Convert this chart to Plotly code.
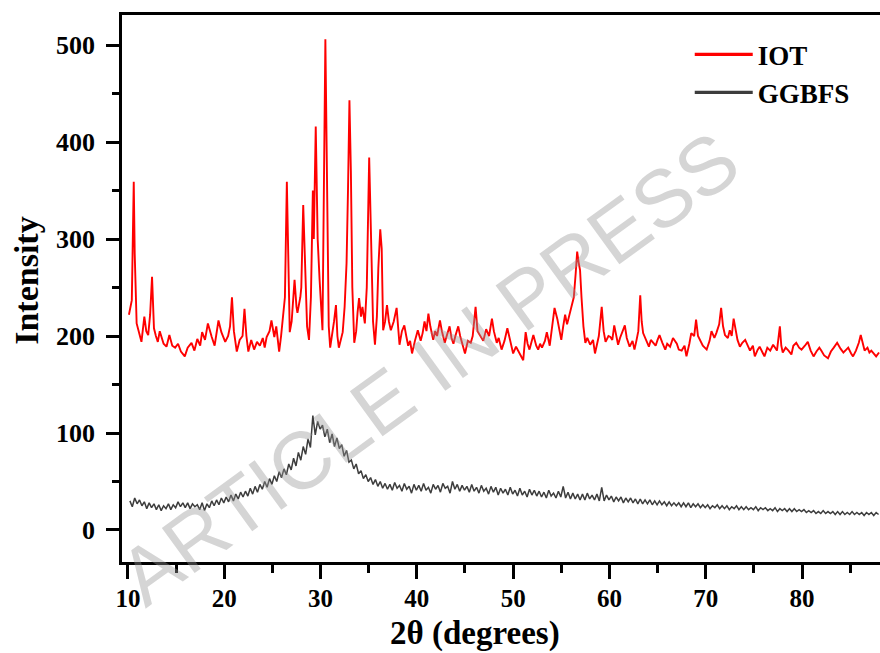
import plotly.graph_objects as go

# ---------------- data ----------------
iot_2theta = [
    10.1, 10.4, 10.6, 10.7, 10.9, 11.1, 11.4, 11.7, 11.9, 12.1, 12.3, 12.5, 12.7, 12.9,
    13.1, 13.3, 13.5, 13.7, 14.0, 14.3, 14.6, 14.9, 15.2, 15.5, 15.9, 16.2, 16.6, 16.9,
    17.2, 17.5, 17.7, 18.0, 18.3, 18.5, 18.7, 19.0, 19.2, 19.4, 19.7, 20.1, 20.4, 20.6,
    20.8, 21.0, 21.3, 21.6, 21.9, 22.1, 22.3, 22.5, 22.8, 23.1, 23.4, 23.7, 24.0, 24.2,
    24.4, 24.7, 24.9, 25.2, 25.4, 25.7, 25.9, 26.1, 26.3, 26.5, 26.6, 26.8, 27.0, 27.3,
    27.5, 27.6, 27.9, 28.0, 28.2, 28.4, 28.6, 28.8, 29.0, 29.2, 29.3, 29.5, 29.7, 29.9,
    30.05, 30.2, 30.5, 30.7, 30.85, 31.0, 31.2, 31.4, 31.6, 31.75, 31.9, 32.1, 32.3, 32.5,
    32.7, 32.85, 33.0, 33.15, 33.3, 33.5, 33.7, 33.85, 34.0, 34.2, 34.35, 34.6, 34.8, 35.05,
    35.25, 35.45, 35.65, 35.85, 36.0, 36.2, 36.35, 36.5, 36.7, 36.9, 37.1, 37.3, 37.6, 37.9,
    38.05, 38.2, 38.45, 38.7, 38.9, 39.1, 39.3, 39.5, 39.8, 40.1, 40.4, 40.6, 40.8, 41.0,
    41.2, 41.4, 41.7, 41.9, 42.1, 42.4, 42.6, 42.9, 43.1, 43.4, 43.6, 43.8, 44.0, 44.3,
    44.5, 44.8, 45.0, 45.3, 45.6, 45.8, 46.1, 46.3, 46.6, 46.9, 47.2, 47.5, 47.8, 48.0,
    48.3, 48.5, 48.8, 49.1, 49.4, 49.7, 50.0, 50.3, 50.6, 50.8, 51.05, 51.3, 51.5, 51.7,
    51.9, 52.1, 52.4, 52.6, 52.8, 53.0, 53.3, 53.5, 53.8, 54.0, 54.3, 54.6, 54.8, 55.0,
    55.2, 55.4, 55.6, 55.9, 56.1, 56.3, 56.5, 56.65, 56.8, 56.95, 57.1, 57.3, 57.5, 57.7,
    58.0, 58.3, 58.5, 58.7, 58.9, 59.2, 59.4, 59.6, 59.9, 60.1, 60.3, 60.5, 60.7, 60.9,
    61.1, 61.3, 61.6, 61.8, 62.1, 62.4, 62.6, 62.8, 63.0, 63.2, 63.35, 63.5, 63.8, 64.1,
    64.3, 64.5, 64.8, 65.0, 65.2, 65.5, 65.8, 66.0, 66.3, 66.6, 67.0, 67.2, 67.5, 67.8,
    68.0, 68.3, 68.5, 68.8, 69.0, 69.2, 69.4, 69.7, 70.1, 70.4, 70.6, 70.9, 71.1, 71.4,
    71.6, 71.8, 72.0, 72.3, 72.5, 72.7, 72.9, 73.1, 73.3, 73.55, 73.8, 74.1, 74.4, 74.6,
    74.9, 75.1, 75.4, 75.6, 75.9, 76.1, 76.4, 76.7, 77.0, 77.2, 77.4, 77.7, 77.85, 78.0,
    78.3, 78.6, 78.9, 79.1, 79.4, 79.7, 79.95, 80.3, 80.6, 80.9, 81.2, 81.5, 81.8, 82.0,
    82.3, 82.7, 83.0, 83.3, 83.65, 84.0, 84.3, 84.6, 84.8, 85.1, 85.3, 85.6, 85.9, 86.1,
    86.3, 86.5, 86.8, 87.0, 87.2, 87.5, 87.7, 88.0,
]
iot_intensity = [
    222, 237, 359, 285, 213, 205, 194, 220, 205, 201, 222, 261, 208, 200,
    194, 205, 199, 192, 189, 201, 190, 188, 192, 184, 179, 188, 193, 185,
    197, 190, 204, 196, 213, 205, 199, 190, 206, 216, 204, 194, 200, 210,
    240, 205, 184, 196, 200, 228, 200, 184, 196, 186, 194, 190, 198, 188,
    199, 205, 216, 199, 210, 184, 200, 218, 240, 359, 300, 204, 215, 258,
    230, 224, 240, 250, 335, 260, 210, 196, 240, 350, 300, 416, 300, 258,
    230, 206, 506, 300, 210, 188, 200, 215, 232, 200, 188, 195, 204, 230,
    275, 350, 443, 370, 250, 193, 205, 225, 239, 220, 230, 213, 250, 384,
    300, 215, 191, 220, 270, 310, 290, 206, 215, 232, 215, 206, 215, 229,
    210, 191, 205, 211, 200, 190, 195, 182, 195, 206, 195, 203, 215, 205,
    223, 210, 196, 205, 200, 216, 205, 193, 200, 210, 198, 192, 200, 210,
    200, 190, 182, 195, 193, 200, 230, 205, 200, 195, 207, 200, 218, 205,
    193, 198, 186, 195, 208, 195, 182, 189, 184, 180, 175, 204, 192, 186,
    195, 201, 190, 186, 192, 188, 195, 204, 190, 205, 229, 217, 205, 196,
    210, 222, 212, 223, 230, 240, 265, 287, 276, 268, 240, 210, 193, 198,
    191, 196, 182, 190, 200, 230, 205, 194, 200, 199, 196, 211, 200, 191,
    198, 203, 211, 198, 189, 195, 186, 195, 205, 242, 215, 203, 195, 189,
    196, 194, 190, 196, 201, 193, 186, 192, 189, 198, 192, 186, 185, 190,
    179, 192, 203, 200, 217, 200, 196, 190, 186, 195, 205, 198, 203, 212,
    229, 210, 201, 198, 206, 200, 218, 205, 196, 189, 193, 196, 189, 185,
    190, 179, 186, 189, 183, 179, 188, 185, 191, 188, 185, 210, 190, 183,
    188, 185, 181, 190, 193, 188, 186, 190, 194, 185, 179, 184, 188, 185,
    180, 177, 184, 188, 193, 187, 183, 186, 188, 182, 179, 185, 193, 201,
    192, 185, 188, 183, 185, 181, 179, 183,
]

# GGBFS scan: 0.25 deg steps starting at 10.2 deg (one row per degree)
ggbfs_start = 10.2
ggbfs_step = 0.25
ggbfs_intensity = [
    30, 24, 33, 27,   31, 25, 29, 22,   28, 23, 27, 21,   26, 20, 25, 22,
    27, 21, 26, 23,   29, 24, 28, 23,   28, 22, 27, 24,   26, 21, 28, 20,
    27, 23, 30, 25,   31, 26, 33, 28,   34, 29, 36, 30,   37, 32, 39, 34,
    40, 35, 43, 37,   45, 39, 47, 42,   50, 44, 53, 47,   56, 50, 60, 54,
    63, 57, 68, 62,   74, 66, 80, 72,   86, 78, 94, 85,   118, 98, 112, 104,
    108, 96, 104, 90, 99, 86, 95, 84,   88, 76, 82, 70,   72, 63, 68, 58,
    61, 53, 57, 50,   54, 47, 52, 45,   50, 43, 48, 42,   47, 41, 49, 43,
    46, 40, 48, 42,   45, 38, 47, 41,   46, 40, 48, 41,   44, 38, 47, 42,
    46, 39, 48, 43,   45, 38, 50, 42,   47, 40, 46, 41,   45, 39, 47, 40,
    44, 38, 46, 40,   43, 37, 45, 39,   44, 36, 43, 38,   42, 36, 44, 37,
    41, 35, 43, 36,   40, 34, 42, 36,   41, 35, 40, 34,   39, 33, 41, 35,
    38, 33, 40, 34,   45, 33, 39, 32,   38, 32, 37, 31,   37, 31, 38, 32,
    36, 31, 37, 30,   44, 30, 36, 31,   35, 29, 34, 30,   34, 28, 33, 29,
    33, 28, 32, 27,   32, 27, 31, 27,   31, 26, 30, 26,   30, 26, 29, 25,
    29, 25, 28, 25,   28, 24, 28, 24,   28, 23, 27, 24,   27, 23, 26, 23,
    26, 22, 25, 23,   26, 22, 25, 22,   25, 21, 24, 22,   25, 21, 24, 21,
    24, 21, 23, 21,   24, 20, 23, 21,   23, 20, 22, 20,   23, 19, 22, 20,
    22, 19, 22, 19,   22, 19, 21, 19,   21, 18, 20, 18,   20, 17, 19, 17,
    20, 17, 19, 17,   19, 16, 19, 16,   19, 16, 18, 16,   19, 16, 18, 16,
    18, 15, 18, 16,   18, 15, 18, 16,
]
ggbfs_2theta = [round(ggbfs_start + ggbfs_step * i, 2) for i in range(len(ggbfs_intensity))]

series_names = ["IOT", "GGBFS"]
series_colors = ["#ff0000", "#3d3d3d"]
x_tick_vals = [10, 20, 30, 40, 50, 60, 70, 80]
y_tick_vals = [0, 100, 200, 300, 400, 500]

# ---------------- figure ----------------
FONT = "Liberation Serif, Times New Roman, serif"

fig = go.Figure()
fig.add_trace(go.Scatter(x=iot_2theta, y=iot_intensity, mode="lines", name=series_names[0],
                         line=dict(color=series_colors[0], width=1.9), showlegend=False))
fig.add_trace(go.Scatter(x=ggbfs_2theta, y=ggbfs_intensity, mode="lines", name=series_names[1],
                         line=dict(color=series_colors[1], width=1.5), showlegend=False))
# legend entries (thicker sample lines, as in the reference)
for nm, col in zip(series_names, series_colors):
    fig.add_trace(go.Scatter(x=[None], y=[None], mode="lines", name=nm,
                             line=dict(color=col, width=3.2), showlegend=True))

fig.update_layout(
    width=880, height=653,
    margin=dict(l=122, r=0, t=15, b=91),
    paper_bgcolor="white", plot_bgcolor="white",
    showlegend=True,
    legend=dict(x=0.749, y=0.972, xanchor="left", yanchor="top",
                bgcolor="rgba(0,0,0,0)", itemwidth=58,
                font=dict(family=FONT, size=27, color="black", weight="bold"),
                tracegroupgap=0),
    font=dict(family=FONT, color="black"),
)

fig.update_xaxes(
    range=[9.38, 88.1], tickvals=x_tick_vals, ticks="outside", ticklen=14, tickwidth=2.5,
    tickcolor="black", showline=True, linewidth=2.5, linecolor="black", mirror=True,
    showgrid=False, zeroline=False, ticklabelstandoff=-2,
    tickfont=dict(family=FONT, size=25, color="black", weight="bold"),
    minor=dict(dtick=5, tick0=0, ticks="outside", ticklen=8, tickwidth=2.5, tickcolor="black"),
)
fig.update_yaxes(
    range=[-33, 531], tickvals=y_tick_vals, ticks="outside", ticklen=13, tickwidth=2.5,
    tickcolor="black", showline=True, linewidth=2.5, linecolor="black", mirror=False,
    showgrid=False, zeroline=False, ticklabelstandoff=6,
    tickfont=dict(family=FONT, size=26, color="black", weight="bold"),
    minor=dict(dtick=50, tick0=0, ticks="outside", ticklen=7, tickwidth=2.5, tickcolor="black"),
)

# axis titles
fig.add_annotation(text="2θ (degrees)", xref="paper", yref="paper", x=0.466, y=-0.094,
                   xanchor="center", yanchor="top", showarrow=False,
                   font=dict(family=FONT, size=33, color="black", weight="bold"))
fig.add_annotation(text="Intensity", xref="paper", yref="paper", x=-0.126, y=0.515,
                   xanchor="center", yanchor="middle", textangle=-90, showarrow=False,
                   font=dict(family=FONT, size=34, color="black", weight="bold"))

# watermark
fig.add_annotation(text="ARTICLE IN PRESS", xref="paper", yref="paper", x=0.405, y=0.355,
                   xanchor="center", yanchor="middle", textangle=-36, showarrow=False,
                   font=dict(family="Liberation Sans, Arial, sans-serif", size=81,
                             color="rgba(150,150,150,0.40)"))

fig.write_html("out.html")
